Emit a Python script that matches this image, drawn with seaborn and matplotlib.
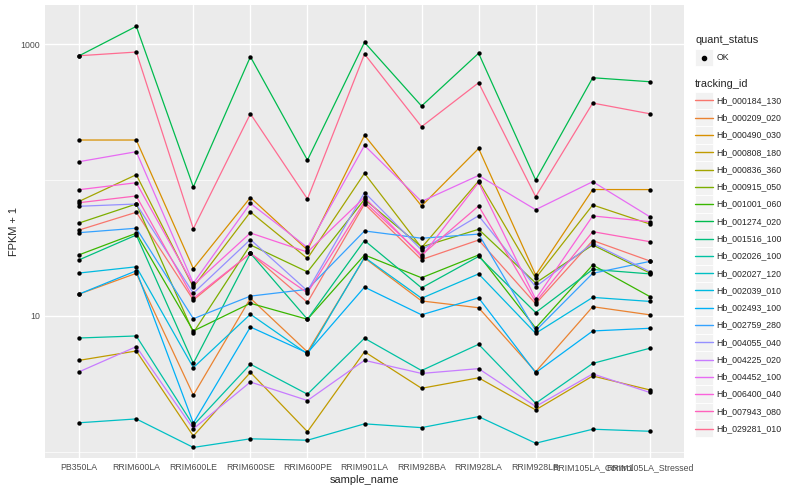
import matplotlib
matplotlib.use('Agg')
import matplotlib.pyplot as plt
import numpy as np
import pandas as pd
import seaborn as sns
from matplotlib.lines import Line2D
from matplotlib.patches import Rectangle
from matplotlib.legend_handler import HandlerLine2D

# samples on the x axis, in plotting order
sample_names = ['PB350LA', 'RRIM600LA', 'RRIM600LE', 'RRIM600SE', 'RRIM600PE', 'RRIM901LA',
                'RRIM928BA', 'RRIM928LA', 'RRIM928LB', 'RRIM105LA_Control', 'RRIM105LA_Stressed']

tracking_ids = ['Hb_000184_130', 'Hb_000209_020', 'Hb_000490_030', 'Hb_000808_180', 'Hb_000836_360',
                'Hb_000915_050', 'Hb_001001_060', 'Hb_001274_020', 'Hb_001516_100', 'Hb_002026_100',
                'Hb_002027_120', 'Hb_002039_010', 'Hb_002493_100', 'Hb_002759_280', 'Hb_004055_040',
                'Hb_004225_020', 'Hb_004452_100', 'Hb_006400_040', 'Hb_007943_080', 'Hb_029281_010']

# FPKM + 1, one row per tracking_id (same order as tracking_ids), one value per sample
fpkm_plus_one = [
    [42.9, 57.9, 13.1, 28.9, 12.6, 66.6, 26.0, 36.2, 12.3, 35.9, 25.4],
    [14.5, 20.6, 2.62, 13.5, 5.44, 26.7, 12.9, 11.5, 3.89, 11.7, 10.2],
    [196.8, 196.8, 22.3, 74.3, 30.6, 213.0, 64.4, 170.5, 20.0, 85.1, 85.0],
    [4.72, 5.53, 1.31, 3.85, 1.41, 5.46, 2.94, 3.51, 2.04, 3.62, 2.86],
    [69.7, 109.4, 16.3, 58.2, 26.5, 112.0, 31.8, 98.3, 19.0, 65.5, 47.5],
    [48.3, 66.6, 7.54, 33.3, 21.1, 72.1, 32.2, 43.4, 17.5, 33.3, 20.7],
    [28.2, 40.6, 7.76, 12.4, 9.46, 28.1, 19.1, 28.1, 8.16, 23.7, 13.9],
    [820, 1349, 88.9, 807, 140, 1029, 350, 855, 100, 565, 528],
    [25.9, 39.4, 4.49, 28.9, 9.46, 35.9, 16.1, 27.4, 10.6, 22.0, 20.4],
    [6.89, 7.13, 1.57, 4.42, 2.66, 6.86, 3.97, 6.19, 2.28, 4.48, 5.79],
    [1.64, 1.75, 1.08, 1.25, 1.22, 1.61, 1.51, 1.82, 1.16, 1.47, 1.42],
    [20.7, 23.0, 4.17, 10.3, 5.26, 27.0, 13.5, 20.4, 7.46, 13.7, 12.8],
    [14.5, 21.5, 1.63, 8.30, 5.35, 16.3, 10.2, 13.6, 3.83, 7.76, 8.12],
    [41.0, 44.2, 9.55, 14.0, 15.7, 42.2, 37.3, 40.0, 7.80, 20.6, 25.2],
    [64.1, 66.6, 14.7, 36.5, 15.3, 80.9, 30.6, 54.6, 16.4, 34.2, 21.2],
    [3.89, 5.95, 1.48, 3.27, 2.39, 4.72, 3.78, 4.10, 2.16, 3.75, 2.74],
    [136.4, 161.5, 17.4, 67.4, 31.9, 179.4, 69.5, 108.0, 60.5, 97.2, 53.7],
    [84.9, 95.5, 16.9, 40.8, 29.5, 74.6, 27.3, 95.9, 13.3, 54.4, 49.4],
    [68.1, 76.3, 13.5, 28.9, 14.8, 69.2, 28.1, 64.4, 12.7, 41.7, 35.2],
    [820, 873, 43.8, 307, 72.5, 844, 246.5, 519, 75.4, 368, 307],
]

quant_status = 'OK'

# ggplot style hue palette for 20 levels
hue_colours = ['#F8766D', '#EA8331', '#D89000', '#C09B00', '#A3A500', '#7CAE00', '#39B600', '#00BB4E',
               '#00BF7D', '#00C1A3', '#00BFC4', '#00BAE0', '#00B0F6', '#35A2FF', '#9590FF', '#C77CFF',
               '#E76BF3', '#FA62DB', '#FF62BC', '#FF6C91']

# long format table for seaborn
rows = []
for tid, vals in zip(tracking_ids, fpkm_plus_one):
    for s, v in zip(sample_names, vals):
        rows.append({'tracking_id': tid, 'sample_name': s, 'fpkm1': v, 'quant_status': quant_status})
df = pd.DataFrame(rows)

sns.set_theme(style='darkgrid')
plt.rcParams['font.family'] = ['Liberation Sans', 'DejaVu Sans']

fig, ax = plt.subplots(figsize=(8, 5), dpi=100)
fig.subplots_adjust(left=0.05625, right=0.855, bottom=0.084, top=0.99)

sns.lineplot(data=df, x='sample_name', y='fpkm1', hue='tracking_id', hue_order=tracking_ids,
             palette=hue_colours, sort=False, estimator=None, linewidth=0.9, legend=False, ax=ax)
sns.scatterplot(data=df, x='sample_name', y='fpkm1', color='black', s=10, linewidth=0,
                legend=False, ax=ax, zorder=3)

ax.set_yscale('log')
ax.set_ylim(0.903, 1936)
ax.set_xlim(-0.6, len(sample_names) - 0.4)
ax.set_yticks([10, 1000])
ax.set_yticklabels(['10', '1000'])
ax.set_yticks([1, 100], minor=True)
ax.set_yticklabels([], minor=True)

# ggplot grey look
ax.set_facecolor('#EBEBEB')
for sp in ax.spines.values():
    sp.set_visible(False)
ax.grid(which='major', color='white', linewidth=1.0)
ax.grid(which='minor', axis='y', color='white', linewidth=0.5)
ax.tick_params(axis='both', which='major', length=2.0, width=0.5, color='#333333',
               labelsize=6.3, labelcolor='#4D4D4D', pad=1.6)
ax.tick_params(axis='y', which='minor', length=0)
ax.set_xlabel('sample_name', fontsize=7.9, labelpad=2)
ax.set_ylabel('FPKM + 1', fontsize=7.9, labelpad=1)


class KeyHandler(HandlerLine2D):
    # grey key box behind each legend line, like ggplot
    def create_artists(self, legend, orig_handle, xdescent, ydescent, width, height, fontsize, trans):
        bg = Rectangle((-xdescent, -ydescent), width, height, facecolor='#F2F2F2',
                       edgecolor='white', linewidth=0.6, transform=trans)
        arts = super().create_artists(legend, orig_handle, xdescent, ydescent, width, height, fontsize, trans)
        # centre the line / marker inside the key box
        for a in arts:
            a.set_ydata(np.full_like(np.asarray(a.get_xdata(), dtype=float), height / 2 - ydescent))
        return [bg] + list(arts)


leg_kw = dict(frameon=False, borderpad=0, borderaxespad=0, labelspacing=0, handlelength=1.98,
              handleheight=2.66, handletextpad=0.45, fontsize=6.3, title_fontsize=7.9,
              alignment='left', numpoints=1, loc='upper left')

status_handle = [Line2D([], [], color='black', marker='o', linestyle='', markersize=3.0)]
leg1 = fig.legend(status_handle, [quant_status], title='quant_status',
                  handler_map={Line2D: KeyHandler()}, bbox_to_anchor=(0.869, 0.93), **leg_kw)

id_handles = [Line2D([], [], color=c, linewidth=1.0) for c in hue_colours]
leg2 = fig.legend(id_handles, tracking_ids, title='tracking_id',
                  handler_map={Line2D: KeyHandler()}, bbox_to_anchor=(0.869, 0.842), **leg_kw)

# small gap between legend title and keys
leg1._legend_box.sep = 3
leg2._legend_box.sep = 2

fig.savefig('out.png', dpi=100)
